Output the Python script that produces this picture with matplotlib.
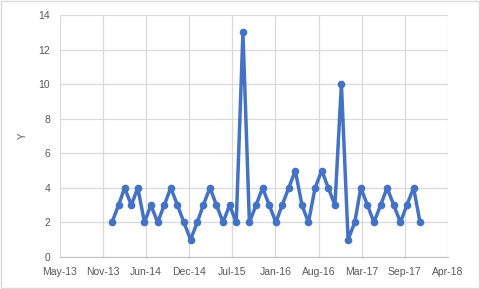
import datetime as dt
import matplotlib
matplotlib.use("Agg")
import matplotlib.pyplot as plt
import matplotlib.dates as mdates

# monthly values, Jan 2014 .. Dec 2017
values = [2, 3, 4, 3, 4, 2, 3, 2, 3, 4, 3, 2,
          1, 2, 3, 4, 3, 2, 3, 2, 13, 2, 3, 4,
          3, 2, 3, 4, 5, 3, 2, 4, 5, 4, 3, 10,
          1, 2, 4, 3, 2, 3, 4, 3, 2, 3, 4, 2]
start_year, start_month = 2014, 1
dates = []
for i in range(len(values)):
    m = start_month - 1 + i
    dates.append(dt.date(start_year + m // 12, m % 12 + 1, 1))

# Excel-style date axis: 200-day major unit starting 5 May 2013
x_min = dt.date(2013, 5, 5)
x_ticks = [x_min + dt.timedelta(days=200 * k) for k in range(10)]
y_ticks = list(range(0, 15, 2))

plt.rcParams['font.family'] = ['Liberation Sans', 'DejaVu Sans']

fig = plt.figure(figsize=(4.8, 2.89), dpi=100)
ax = fig.add_axes([0.125, 0.111, 0.808, 0.837])

ax.plot(dates, values, color='#4472C4', lw=2.5, marker='o', ms=4.5,
        solid_joinstyle='round', zorder=3)

ax.set_xlim(x_ticks[0], x_ticks[-1])
ax.set_ylim(0, 14)
ax.set_xticks(x_ticks)
ax.xaxis.set_major_formatter(mdates.DateFormatter('%b-%y'))
ax.set_yticks(y_ticks)
ax.grid(True, color='#D9D9D9', lw=0.9)
ax.set_axisbelow(True)

for s in ['top', 'right', 'left']:
    ax.spines[s].set_visible(False)
ax.spines['bottom'].set_color('#BFBFBF')
ax.tick_params(length=0, labelsize=7.5, colors='#595959', pad=7)
ax.set_ylabel('Y', fontsize=7, color='#595959', labelpad=8)

fig.patches.append(plt.Rectangle((0.002, 0.003), 0.995, 0.993, transform=fig.transFigure,
                                 fill=False, edgecolor='#D9D9D9', lw=1))

fig.savefig('out.png', dpi=100)
